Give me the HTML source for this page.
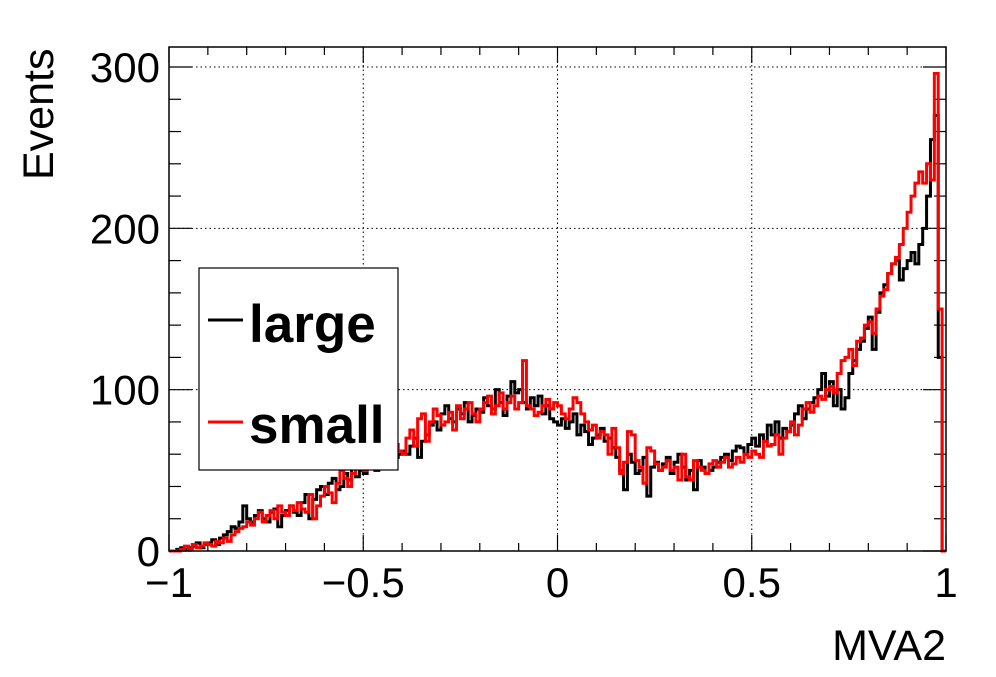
<!DOCTYPE html>
<html><head><meta charset="utf-8"><style>
body{margin:0;background:#fff;}
svg text{font-family:"Liberation Sans",sans-serif;}
</style></head><body>
<svg id="chart" width="996" height="672" viewBox="0 0 996 672" xmlns="http://www.w3.org/2000/svg">
<rect width="996" height="672" fill="#fff"/>
<g id="grid"></g>
<g id="ticks"></g>
<g id="series"></g>
<rect x="169" y="47" width="777" height="504" fill="none" stroke="#000" stroke-width="1.5"/>
<g id="labels"></g>
<text x="53" y="180" font-size="43" transform="rotate(-90 53 180)">Events</text>
<text x="946" y="660" font-size="43" text-anchor="end">MVA2</text>
<g>
<rect x="199" y="268" width="199" height="202" fill="#fff" stroke="#000" stroke-width="1.2"/>
<g>
<line x1="208" y1="320" x2="243" y2="320" stroke="#000" stroke-width="3"/>
<text x="249" y="342" font-size="53" font-weight="bold">large</text>
</g>
<g>
<line x1="208" y1="422" x2="243" y2="422" stroke="#f00" stroke-width="3"/>
<text x="249" y="443" font-size="53" font-weight="bold">small</text>
</g>
</g>
</svg>
<script>
const large = [
0,0,1,2,1,2,3,5,2,4, 5,7,4,8,10,12,15,14,18,28,
20,18,22,25,20,18,24,26,15,22, 25,28,24,22,30,35,20,32,38,40,
35,42,45,38,40,48,44,52,46,50, 48,52,55,50,58,56,60,62,58,60,
62,60,65,70,58,68,72,78,80,75, 85,90,82,80,88,85,92,80,84,88,
86,95,90,88,100,92,84,96,105,98, 100,92,88,95,90,96,85,90,82,80,
78,82,76,80,85,72,78,74,66,70, 72,76,68,70,64,58,50,38,60,55,
48,50,58,34,52,55,50,54,58,48, 55,60,52,44,50,38,56,52,48,50,
52,55,58,60,56,62,65,64,60,66, 70,65,72,68,78,72,80,70,76,74,
78,85,90,82,88,92,95,100,110,96, 105,90,100,88,95,110,118,125,130,138,
145,125,148,160,165,172,178,180,168,175, 180,185,178,190,200,220,255,270,120,0];
const small = [
0,0,0,1,3,1,4,2,3,5, 4,3,6,5,8,6,10,12,14,15,
18,16,20,24,18,22,25,20,28,24, 22,28,25,30,26,24,35,20,28,34,
40,36,30,42,50,45,40,48,52,55, 50,55,52,58,62,60,64,58,66,62,
60,70,75,65,82,85,68,80,88,84, 78,80,86,75,90,82,88,92,85,80,
88,92,96,85,90,98,88,92,96,88, 92,118,90,88,84,86,90,94,88,92,
90,85,82,88,95,92,85,80,75,78, 70,74,72,60,76,64,48,55,74,72,
56,52,42,64,62,54,50,52,56,50, 52,44,60,46,44,56,52,50,48,54,
56,52,55,58,52,54,58,55,60,58, 62,60,58,68,65,66,72,60,70,74,
80,72,78,88,92,86,90,96,94,100, 102,98,110,118,120,125,115,130,132,140,
142,135,150,158,162,172,178,182,190,200, 210,220,228,235,228,240,230,296,150,0];
const xTicks = [-1,-0.5,0,0.5,1];
const xTickLabels = ["\u22121","\u22120.5","0","0.5","1"];
const yTicks = [0,100,200,300];
const yTickLabels = ["0","100","200","300"];
const xMin=-1,xMax=1,yMin=0,yMax=312.4;
const L=169,R=946,T=47,B=551;
const sx=v=>L+(v-xMin)/(xMax-xMin)*(R-L);
const sy=v=>B-(v-yMin)/(yMax-yMin)*(B-T);
const NS="http://www.w3.org/2000/svg";
function mk(tag,attrs,parent){const e=document.createElementNS(NS,tag);for(const k in attrs)e.setAttribute(k,attrs[k]);parent.appendChild(e);return e;}
const grid=document.getElementById('grid'),ticks=document.getElementById('ticks'),labels=document.getElementById('labels'),series=document.getElementById('series');
xTicks.forEach((v,i)=>{
  if(v>xMin&&v<xMax){const g=mk('line',{x1:sx(v),x2:sx(v),y1:T,y2:B,stroke:'#000','stroke-width':1,'stroke-dasharray':'1.5,3'},grid);
  
  }
  const t=mk('text',{x:sx(v),y:597,'font-size':42,'text-anchor':'middle'},labels);t.textContent=xTickLabels[i];
  
  
});
yTicks.forEach((v,i)=>{
  if(v>yMin){const g=mk('line',{x1:L,x2:R,y1:sy(v),y2:sy(v),stroke:'#000','stroke-width':1,'stroke-dasharray':'1.5,3'},grid);
  
  }
  const t=mk('text',{x:160,y:sy(v)+15,'font-size':42,'text-anchor':'end'},labels);t.textContent=yTickLabels[i];
  
  
});
for(let k=0;k<=20;k++){const v=-1+k*0.1;const major=k%5===0;const len=major?16:8;
  mk('line',{x1:sx(v),x2:sx(v),y1:B,y2:B-len,stroke:'#000','stroke-width':1.2},ticks);
  mk('line',{x1:sx(v),x2:sx(v),y1:T,y2:T+len,stroke:'#000','stroke-width':1.2},ticks);}
for(let v=0;v<=yMax;v+=20){const major=v%100===0;const len=major?23:12;
  mk('line',{x1:L,x2:L+len,y1:sy(v),y2:sy(v),stroke:'#000','stroke-width':1.2},ticks);
  mk('line',{x1:R,x2:R-len,y1:sy(v),y2:sy(v),stroke:'#000','stroke-width':1.2},ticks);}
function stepPath(vals){const n=vals.length,w=(xMax-xMin)/n;let d='M'+sx(xMin)+','+sy(0);
  vals.forEach((v,i)=>{d+='L'+sx(xMin+i*w)+','+sy(v)+'L'+sx(xMin+(i+1)*w)+','+sy(v);});
  d+='L'+sx(xMax)+','+sy(0);return d;}
const pl=mk('path',{d:stepPath(large),fill:'none',stroke:'#000','stroke-width':3},series);


const ps=mk('path',{d:stepPath(small),fill:'none',stroke:'#f00','stroke-width':3},series);


</script>
</body></html>
